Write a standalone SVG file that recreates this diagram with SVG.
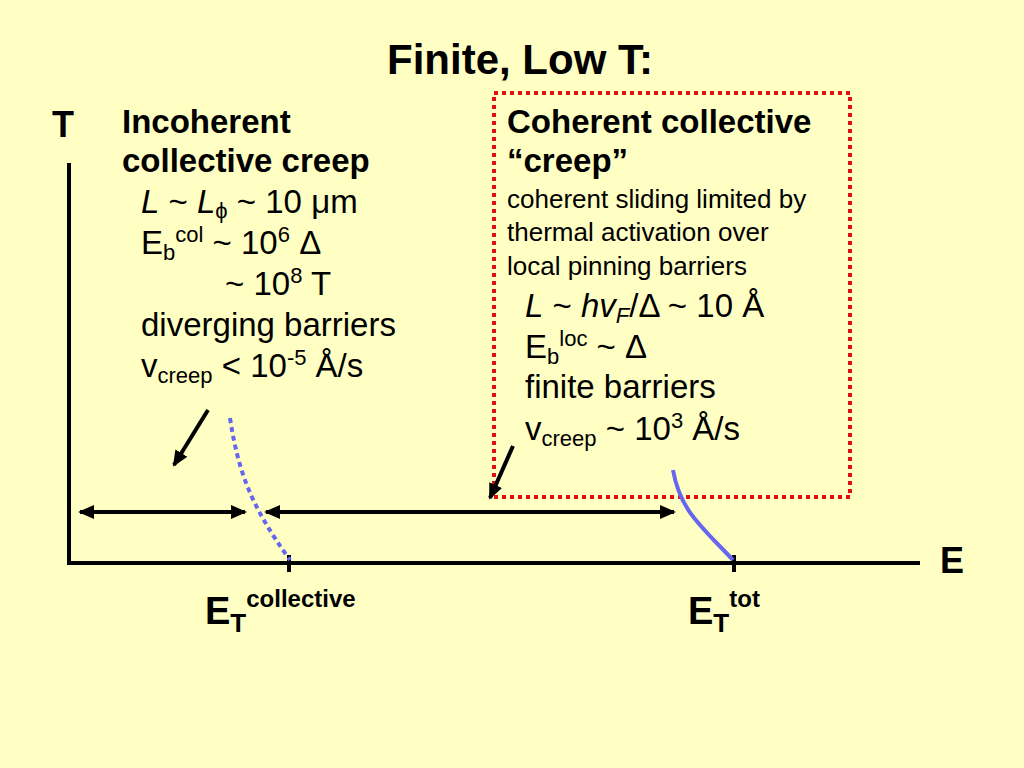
<svg xmlns="http://www.w3.org/2000/svg" width="1024" height="768" viewBox="0 0 1024 768">
<style>
text{font-family:"Liberation Sans",Arial,sans-serif;fill:#000}
.b{font-weight:bold;font-size:33px}
.t28{font-size:33px}
.s22{font-size:26px}
.ln{stroke:#000;stroke-width:4;fill:none}
</style>
<defs>
<marker id="ah2" markerWidth="16" markerHeight="14" refX="14" refY="7" orient="auto-start-reverse" markerUnits="userSpaceOnUse"><path d="M0,0 L16,7 L0,14 z" fill="#000"/></marker>
</defs>
<rect width="1024" height="768" fill="#FFFFC4"/>
<text x="520" y="74" text-anchor="middle" font-weight="bold" font-size="42">Finite, Low T:</text>
<g id="axes">
<path class="ln" d="M69,163 V563 H920"/>
<path class="ln" stroke-width="3" d="M289,555 V572 M734,555 V572"/>
<text x="52" y="137" font-weight="bold" font-size="36">T</text>
<text x="940" y="573" font-weight="bold" font-size="36">E</text>
<text x="205" y="624" font-weight="bold" font-size="38">E<tspan font-size="26" dy="8">T</tspan><tspan font-size="24" dy="-25">collective</tspan></text>
<text x="688" y="624" font-weight="bold" font-size="38">E<tspan font-size="26" dy="8">T</tspan><tspan font-size="24" dy="-25">tot</tspan></text>
</g>
<g id="incoherent">
<text x="122" y="133" class="b">Incoherent</text>
<text x="122" y="172" class="b">collective creep</text>
<text x="141" y="213" class="t28"><tspan font-style="italic">L</tspan> ~ <tspan font-style="italic">L</tspan><tspan font-size="22" dy="5">ϕ</tspan><tspan dy="-5"> ~ 10 μm</tspan></text>
<text x="141" y="254" class="t28">E<tspan font-size="22" dy="6">b</tspan><tspan font-size="22" dy="-18">col</tspan><tspan dy="12"> ~ 10</tspan><tspan font-size="22" dy="-12">6</tspan><tspan dy="12"> Δ</tspan></text>
<text x="225" y="295" class="t28">~ 10<tspan font-size="22" dy="-12">8</tspan><tspan dy="12"> T</tspan></text>
<text x="141" y="336" class="t28">diverging barriers</text>
<text x="141" y="377" class="t28">v<tspan font-size="22" dy="6">creep</tspan><tspan dy="-6"> &lt; 10</tspan><tspan font-size="22" dy="-12">-5</tspan><tspan dy="12"> Å/s</tspan></text>
</g>
<g id="coherent">
<rect x="494" y="93" width="356" height="404" fill="none" stroke="#E01010" stroke-width="4" stroke-dasharray="4,4"/>
<text x="507" y="133" class="b">Coherent collective</text>
<text x="507" y="172" class="b">“creep”</text>
<text x="507" y="208" class="s22">coherent sliding limited by</text>
<text x="507" y="241" class="s22">thermal activation over</text>
<text x="507" y="275" class="s22">local pinning barriers</text>
<text x="525" y="317" class="t28"><tspan font-style="italic">L</tspan> ~ <tspan font-style="italic">hv</tspan><tspan font-style="italic" font-size="22" dy="6">F</tspan><tspan dy="-6">/Δ ~ 10 Å</tspan></text>
<text x="525" y="358" class="t28">E<tspan font-size="22" dy="6">b</tspan><tspan font-size="22" dy="-18">loc</tspan><tspan dy="12"> ~ Δ</tspan></text>
<text x="525" y="398" class="t28">finite barriers</text>
<text x="525" y="440" class="t28">v<tspan font-size="22" dy="6">creep</tspan><tspan dy="-6"> ~ 10</tspan><tspan font-size="22" dy="-12">3</tspan><tspan dy="12"> Å/s</tspan></text>
</g>
<g id="connectors">
<path class="ln" d="M80,512 H245" marker-start="url(#ah2)" marker-end="url(#ah2)"/>
<path class="ln" d="M266,512 H674" marker-start="url(#ah2)" marker-end="url(#ah2)"/>
<path class="ln" d="M208,410 L174,465" marker-end="url(#ah2)"/>
<path class="ln" d="M513,446 L490,498" marker-end="url(#ah2)"/>
<path d="M230,418 C238,470 250,505 290,560" fill="none" stroke="#6666EE" stroke-width="4" stroke-dasharray="5,4"/>
<path d="M673,470 C680,510 700,525 733,560" fill="none" stroke="#6666EE" stroke-width="4"/>
</g>
</svg>
